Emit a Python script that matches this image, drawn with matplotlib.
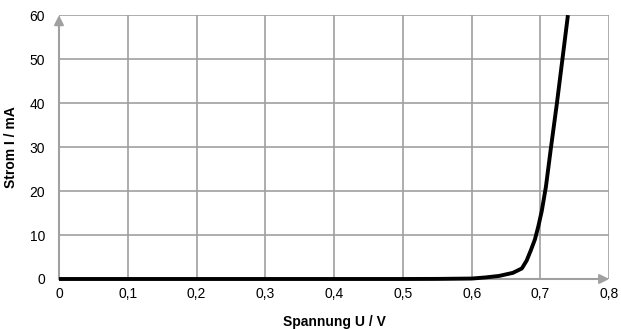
import matplotlib
matplotlib.use("Agg")
import matplotlib.pyplot as plt

plt.rcParams['font.family'] = ['Liberation Sans', 'DejaVu Sans']

# diode characteristic
spannung = [0.0, 0.1, 0.2, 0.3, 0.4, 0.5, 0.55, 0.6, 0.62, 0.64, 0.66, 0.673,
            0.68, 0.686, 0.692, 0.697, 0.702, 0.708, 0.715, 0.724, 0.732, 0.740]
strom = [0.0, 0.0, 0.0, 0.0, 0.0, 0.0, 0.02, 0.1, 0.35, 0.7, 1.4, 2.4,
         4.2, 6.5, 9.0, 12.0, 15.5, 21.0, 29.5, 40.0, 50.0, 60.0]

xticks = [0.0, 0.1, 0.2, 0.3, 0.4, 0.5, 0.6, 0.7, 0.8]
xlabels = ['0', '0,1', '0,2', '0,3', '0,4', '0,5', '0,6', '0,7', '0,8']
yticks = [0, 10, 20, 30, 40, 50, 60]

grid_col = '#a0a0a0'

fig = plt.figure(figsize=(6.21, 3.29), dpi=100)
ax = fig.add_axes([0.095, 0.152, 0.886, 0.802])

ax.set_xlim(0, 0.8)
ax.set_ylim(0, 60)
ax.set_xticks(xticks)
ax.set_xticklabels(xlabels)
ax.set_yticks(yticks)
ax.grid(True, color=grid_col, linewidth=1.2)
ax.tick_params(axis='x', length=0, labelsize=10, pad=6)
ax.tick_params(axis='y', length=0, labelsize=10, pad=10)
for s in ax.spines.values():
    s.set_visible(False)

# axes with arrow heads
ax.annotate('', xy=(0.8, 0), xytext=(0, 0), xycoords='data',
            arrowprops=dict(arrowstyle='-|>', color=grid_col, lw=1.5,
                            mutation_scale=14, shrinkA=0, shrinkB=0),
            annotation_clip=False)
ax.annotate('', xy=(0, 60), xytext=(0, 0), xycoords='data',
            arrowprops=dict(arrowstyle='-|>', color=grid_col, lw=1.5,
                            mutation_scale=14, shrinkA=0, shrinkB=0),
            annotation_clip=False)

ax.plot(spannung, strom, color='black', linewidth=2.8, solid_capstyle='butt',
        solid_joinstyle='round', clip_on=False, zorder=5)

ax.set_xlabel('Spannung U / V', fontsize=10, fontweight='bold', labelpad=10)
ax.set_ylabel('Strom I / mA', fontsize=10, fontweight='bold', labelpad=8)

fig.savefig('out.png', dpi=100)
